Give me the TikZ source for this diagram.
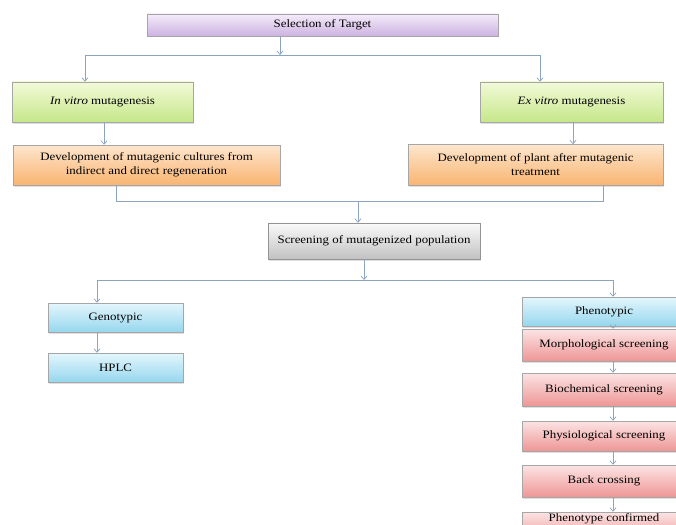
\documentclass[tikz,border=0pt]{standalone}
\usepackage{fontspec}
\setmainfont{Liberation Serif}[FakeStretch=1.14]
\usetikzlibrary{arrows.meta,shadows}
\definecolor{arr}{HTML}{8AA4C2}
\tikzset{
  box/.style={draw=gray!70, line width=0.5pt, align=center, inner sep=1pt,
    font=\fontsize{11.3}{14}\selectfont,
    drop shadow={shadow xshift=1pt, shadow yshift=-1.5pt, opacity=0.25}},
  purp/.style={box, top color={rgb,255:red,244;green,236;blue,250}, bottom color={rgb,255:red,205;green,178;blue,225}},
  grn/.style={box, top color={rgb,255:red,242;green,250;blue,215}, bottom color={rgb,255:red,198;green,231;blue,138}},
  orn/.style={box, top color={rgb,255:red,253;green,230;blue,205}, bottom color={rgb,255:red,249;green,180;blue,112}},
  gry/.style={box, draw=gray!85, top color=gray!4, bottom color=gray!48},
  blu/.style={box, top color={rgb,255:red,228;green,246;blue,252}, bottom color={rgb,255:red,150;green,215;blue,238}},
  pnk/.style={box, top color={rgb,255:red,252;green,228;blue,228}, bottom color={rgb,255:red,238;green,150;blue,150}},
  conn/.style={draw=arr, line width=0.7pt},
  arrw/.style={conn, -{Straight Barb[length=3.5pt,width=6pt]}},
}
\begin{document}
\begin{tikzpicture}[x=1pt,y=-1pt]
\useasboundingbox[fill=white] (0,0) rectangle (676,524);
\begin{scope}
\clip (0,0) rectangle (676,524);
\node[purp, minimum width=351, minimum height=22] (sel) at (322.5,25) {Selection of Target};
\node[grn, minimum width=181, minimum height=40] (inv) at (102.5,102) {\textit{In vitro} mutagenesis};
\node[grn, minimum width=183, minimum height=40] (exv) at (571.5,102) {\textit{Ex vitro} mutagenesis};
\node[orn, minimum width=267, minimum height=40] (dev1) at (146.5,165) {Development of mutagenic cultures from\\indirect and direct regeneration};
\node[orn, minimum width=255, minimum height=41] (dev2) at (535.5,165) {Development of plant after mutagenic\\treatment};
\node[gry, minimum width=212, minimum height=36] (scr) at (374,241) {Screening of mutagenized population};
\node[blu, minimum width=135, minimum height=29] (gen) at (115.5,317.5) {Genotypic};
\node[blu, minimum width=135, minimum height=29] (hplc) at (115.5,367.5) {HPLC};
\node[blu, minimum width=164, minimum height=29] (phen) at (604,311.5) {Phenotypic};
\node[pnk, minimum width=164, minimum height=32] (morph) at (604,345) {Morphological screening};
\node[pnk, minimum width=164, minimum height=33] (bio) at (604,389.5) {Biochemical screening};
\node[pnk, minimum width=164, minimum height=30] (phys) at (604,436) {Physiological screening};
\node[pnk, minimum width=164, minimum height=32] (back) at (604,481) {Back crossing};
\node[pnk, minimum width=164, minimum height=30, text depth=19pt] (conf) at (604,527) {Phenotype confirmed};
\end{scope}
% top split
\coordinate (t0) at (280,55);
\coordinate (tl) at (85,55);
\coordinate (tr) at (540,55);
\draw[arrw] (sel.south -| t0) -- (t0);
\draw[conn] (tl) -- (tr);
\draw[arrw] (tl) -- (tl |- inv.north);
\draw[arrw] (tr) -- (tr |- exv.north);
\draw[arrw] ([xshift=1.5pt]inv.south) -- ([xshift=1.5pt]dev1.north -| inv.south);
\draw[arrw] ([xshift=1.5pt]exv.south) -- ([xshift=1.5pt]dev2.north -| exv.south);
% merge
\coordinate (ml) at (116,201);
\coordinate (mr) at (603,201);
\coordinate (mm) at (358,201);
\draw[conn] (dev1.south -| ml) -- (ml) -- (mr) -- (dev2.south -| mr);
\draw[arrw] (mm) -- (mm |- scr.north);
% bottom split
\coordinate (b0) at (364,280);
\coordinate (bl) at (97,280);
\coordinate (br) at (613,280);
\draw[arrw] (scr.south -| b0) -- (b0);
\draw[conn] (bl) -- (br);
\draw[arrw] (bl) -- (bl |- gen.north);
\draw[arrw] (br) -- (br |- phen.north);
\draw[arrw] (gen.south -| bl) -- (hplc.north -| bl);
\draw[arrw] (phen.south -| br) -- (morph.north -| br);
\draw[arrw] (morph.south -| br) -- (bio.north -| br);
\draw[arrw] (bio.south -| br) -- (phys.north -| br);
\draw[arrw] (phys.south -| br) -- (back.north -| br);
\draw[arrw] (back.south -| br) -- (conf.north -| br);
\end{tikzpicture}
\end{document}
